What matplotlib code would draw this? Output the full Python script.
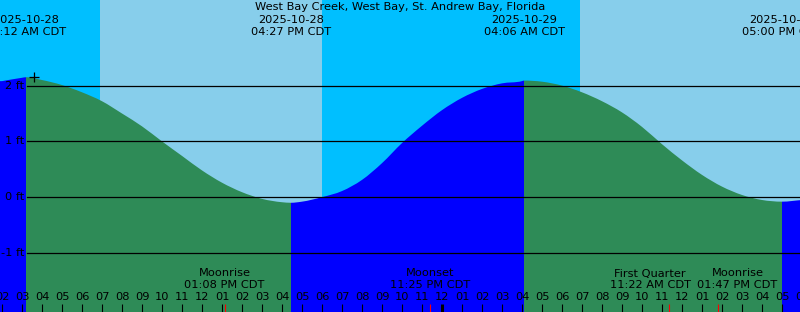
import numpy as np
import matplotlib
matplotlib.use("Agg")
import matplotlib.pyplot as plt
from matplotlib.path import Path
from matplotlib.patches import PathPatch

# hours counted from 2025-10-28 00:00 CDT
hours = list(range(2, 43))
height_ft = [2.08, 2.14, 2.10, 2.01, 1.88, 1.72, 1.50, 1.27, 1.00, 0.74,
             0.48, 0.26, 0.09, -0.03, -0.09, -0.08, 0.00, 0.11, 0.31, 0.61,
             0.97, 1.28, 1.56, 1.78, 1.94, 2.04, 2.08, 2.07, 2.00, 1.88,
             1.72, 1.52, 1.26, 0.95, 0.66, 0.40, 0.19, 0.04, -0.05, -0.08,
             -0.05]

# high / low tide events
event_hours = [3.2, 16.45, 28.1, 41.0]
event_ft = [2.15, -0.10, 2.09, -0.08]
event_dates = ["2025-10-28", "2025-10-28", "2025-10-29", "2025-10-29"]
event_times = ["03:12 AM CDT", "04:27 PM CDT", "04:06 AM CDT", "05:00 PM CDT"]

# sun: night until sunrise, day until sunset
sun_changes = [6.9, 18.0, 30.9]

# moon events
moon_hours = [13.13, 23.42, 35.37, 37.78]
moon_names = ["Moonrise", "Moonset", "First Quarter", "Moonrise"]
moon_times = ["01:08 PM CDT", "11:25 PM CDT", "11:22 AM CDT", "01:47 PM CDT"]
moon_label_x = [13.13, 23.42, 34.4, 38.78]

depth_levels = [2, 1, 0, -1]
title = "West Bay Creek, West Bay, St. Andrew Bay, Florida"

DAY = "#87CEEB"
NIGHT = "#00BFFF"
FLOOD = "#0000FF"
EBB = "#2E8B57"
W, H = 800, 312
fs = 8.2

fig = plt.figure(figsize=(W / 100, H / 100), dpi=100)
ax = fig.add_axes([0, 0, 1, 1])
ax.axis("off")
x0, x1 = 1.9, 41.9
y0, y1 = (197.2 - H) / 55.8, 197.2 / 55.8
ax.set_xlim(x0, x1)
ax.set_ylim(y0, y1)


def ypos(px):
    return 1 - px / H


# background day/night
edges = [x0] + sun_changes + [x1]
for i in range(len(edges) - 1):
    ax.axvspan(edges[i], edges[i + 1], color=NIGHT if i % 2 == 0 else DAY, lw=0, zorder=0)

# tide curve: smooth cubic path through the read points
t = np.array(hours + event_hours, dtype=float)
h = np.array(height_ft + event_ft, dtype=float)
order = np.argsort(t)
t, h = t[order], h[order]
slope = np.gradient(h, t)
for eh in event_hours:
    slope[t == eh] = 0.0

bounds = [t[0]] + event_hours + [t[-1]]
bottom = y0 - 1
for i in range(len(bounds) - 1):
    idx = np.where((t >= bounds[i]) & (t <= bounds[i + 1]))[0]
    xs = t[idx]
    left = x0 - 0.5 if i == 0 else xs[0]
    right = x1 + 0.5 if i == len(bounds) - 2 else xs[-1]
    verts = [(left, bottom), (left, h[idx[0]]), (xs[0], h[idx[0]])]
    codes = [Path.MOVETO, Path.LINETO, Path.LINETO]
    for a, b in zip(idx[:-1], idx[1:]):
        dt = t[b] - t[a]
        verts += [(t[a] + dt / 3, h[a] + slope[a] * dt / 3),
                  (t[b] - dt / 3, h[b] - slope[b] * dt / 3),
                  (t[b], h[b])]
        codes += [Path.CURVE4] * 3
    verts += [(right, h[idx[-1]]), (right, bottom), (left, bottom)]
    codes += [Path.LINETO, Path.LINETO, Path.CLOSEPOLY]
    ax.add_patch(PathPatch(Path(verts, codes), facecolor=FLOOD if i % 2 == 0 else EBB,
                           lw=0, zorder=1))

# depth lines
for d in depth_levels:
    ax.plot([3.23, x1], [d, d], color="black", lw=0.9, zorder=2)
    ax.text(1.9 + 24 / 20, d, f"{d} ft", ha="right", va="center", fontsize=fs, zorder=3)

ax.plot(3.62, 2.15, marker="+", color="black", markersize=7, mew=0.9, zorder=3)

# title and tide event labels
ax.text(0.5, ypos(7.5), title, transform=ax.transAxes, ha="center", va="center", fontsize=fs)
xt = ax.get_xaxis_transform()
for eh, ed, et in zip(event_hours, event_dates, event_times):
    ax.text(eh, ypos(20), ed, transform=xt, ha="center", va="center", fontsize=fs)
    ax.text(eh, ypos(32), et, transform=xt, ha="center", va="center", fontsize=fs)

# hour ticks and labels
for hr in hours:
    lab = hr % 12 or 12
    ax.text(hr, ypos(297.5), f"{lab:02d}", transform=xt, ha="center", va="center",
            fontsize=fs, zorder=3)
    lw = 2.2 if hr % 24 == 0 else 0.8
    ax.plot([hr, hr], [0, ypos(304)], transform=xt, color="black", lw=lw,
            solid_capstyle="butt", zorder=3)

# moon events
for mh, mn, mt, mx in zip(moon_hours, moon_names, moon_times, moon_label_x):
    ax.plot([mh, mh], [0, ypos(304)], transform=xt, color="red", lw=0.8,
            solid_capstyle="butt", zorder=3)
    ax.text(mx, ypos(273.5), mn, transform=xt, ha="center", va="center", fontsize=fs, zorder=3)
    ax.text(mx, ypos(285.5), mt, transform=xt, ha="center", va="center", fontsize=fs, zorder=3)

fig.savefig("out.png", dpi=100)
